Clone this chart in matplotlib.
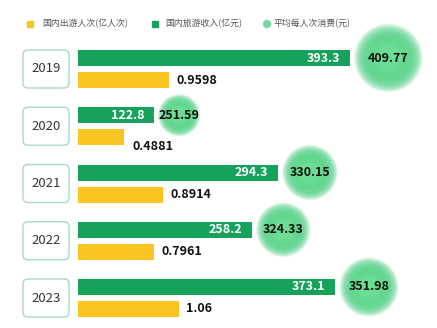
import numpy as np
import matplotlib.pyplot as plt
from matplotlib.patches import FancyBboxPatch, Circle, Rectangle

plt.rcParams['font.family'] = ['Noto Sans CJK SC', 'DejaVu Sans']

years = ['2019', '2020', '2021', '2022', '2023']
trips = [0.9598, 0.4881, 0.8914, 0.7961, 1.06]            # 国内出游人次(亿人次)
revenue = [393.3, 122.8, 294.3, 258.2, 373.1]             # 国内旅游收入(亿元)
spend = [409.77, 251.59, 330.15, 324.33, 351.98]          # 平均每人次消费(元)
legend_labels = ['国内出游人次(亿人次)', '国内旅游收入(亿元)', '平均每人次消费(元)']

GREEN = '#17a25c'
YELLOW = '#fbc521'
W, H = 437, 328

fig = plt.figure(figsize=(W / 100, H / 100), dpi=100)
fig.patch.set_facecolor('white')

# main axes: revenue bars (scale is offset, bars start behind the year boxes)
ax = fig.add_axes([78 / W, 0, (W - 78) / W, 1])
px_per_rev = 0.7246
ax.set_xlim(13 / px_per_rev, 13 / px_per_rev + (W - 78) / px_per_rev)
row0, row_gap = 69, 57.25
ax.set_ylim((H - row0) / row_gap, -row0 / row_gap)
ax.axis('off')

ax2 = ax.twiny()
ax2.set_xlim(0, (W - 78) / 95)
ax2.axis('off')

idx = np.arange(len(years))
off = 11 / row_gap
bh = 16 / row_gap
gy = idx - off
yy = idx + off

ax.barh(gy, revenue, height=bh, color=GREEN, zorder=2)
ax2.barh(yy, trips, height=bh, color=YELLOW, zorder=2)

for v, y in zip(revenue, gy):
    ax.annotate(f'{v:g}', (v, y), xytext=(-7, 0), textcoords='offset points',
                ha='right', va='center', color='white', fontsize=9,
                fontweight='bold')

trip_nudge = [0, -7, 0, 0, 0]
for v, y, dy in zip(trips, yy, trip_nudge):
    ax2.annotate(f'{v:g}', (v, y), xytext=(5.5, dy), textcoords='offset points',
                 ha='left', va='center', color='#111111', fontsize=9,
                 fontweight='bold')

# overlay in pixel coordinates for boxes, glow circles and legend
ov = fig.add_axes([0, 0, 1, 1], zorder=5)
ov.patch.set_alpha(0)
ov.axis('off')

outer_c = np.array([0.20, 0.79, 0.45])
inner_c = np.array([0.50, 0.90, 0.62])


def draw_glow(cx, cy, r, layers=30, a=0.1, z=2):
    # stacked translucent discs give a soft radial falloff
    for k in range(layers):
        f = k / (layers - 1)
        rad = r * (1 - 0.65 * f)
        col = outer_c * (1 - f) + inner_c * f
        ov.add_patch(Circle((cx, cy), rad, fc=col, ec='none', alpha=a, zorder=z))


for i in idx:
    bx, by = ax.transData.transform((revenue[i], gy[i]))
    r = spend[i] * 0.084
    cx = bx + r + 4
    ov.add_patch(Circle((cx, by), r + 3, fill=False, ec='white', lw=1.6, zorder=1))
    draw_glow(cx, by, r)
    ov.text(cx, by, f'{spend[i]:.2f}', ha='center', va='center', fontsize=9,
            fontweight='bold', color='#111111', zorder=3)

    _, ry = ax.transData.transform((0, i))
    ov.add_patch(FancyBboxPatch((23, ry - 19), 46, 38,
                                boxstyle='round,pad=0,rounding_size=5',
                                fc='white', ec='#a8d8c8', lw=1, zorder=1))
    ov.text(46, ry, years[i], ha='center', va='center', fontsize=9.5,
            color='#333333', zorder=3)

# legend
ly = H - 24
ov.add_patch(Rectangle((27, ly - 3), 6, 6, color=YELLOW, zorder=2))
ov.text(42, ly, legend_labels[0], ha='left', va='center', fontsize=6.4, color='#555555')
ov.add_patch(Rectangle((152, ly - 3), 6, 6, color=GREEN, zorder=2))
ov.text(165, ly, legend_labels[1], ha='left', va='center', fontsize=6.4, color='#555555')
draw_glow(267, ly, 4.5, layers=10, a=0.25)
ov.text(273, ly, legend_labels[2], ha='left', va='center', fontsize=6.4, color='#555555')

ov.set_xlim(0, W)
ov.set_ylim(0, H)

fig.savefig('out.png', dpi=100)
